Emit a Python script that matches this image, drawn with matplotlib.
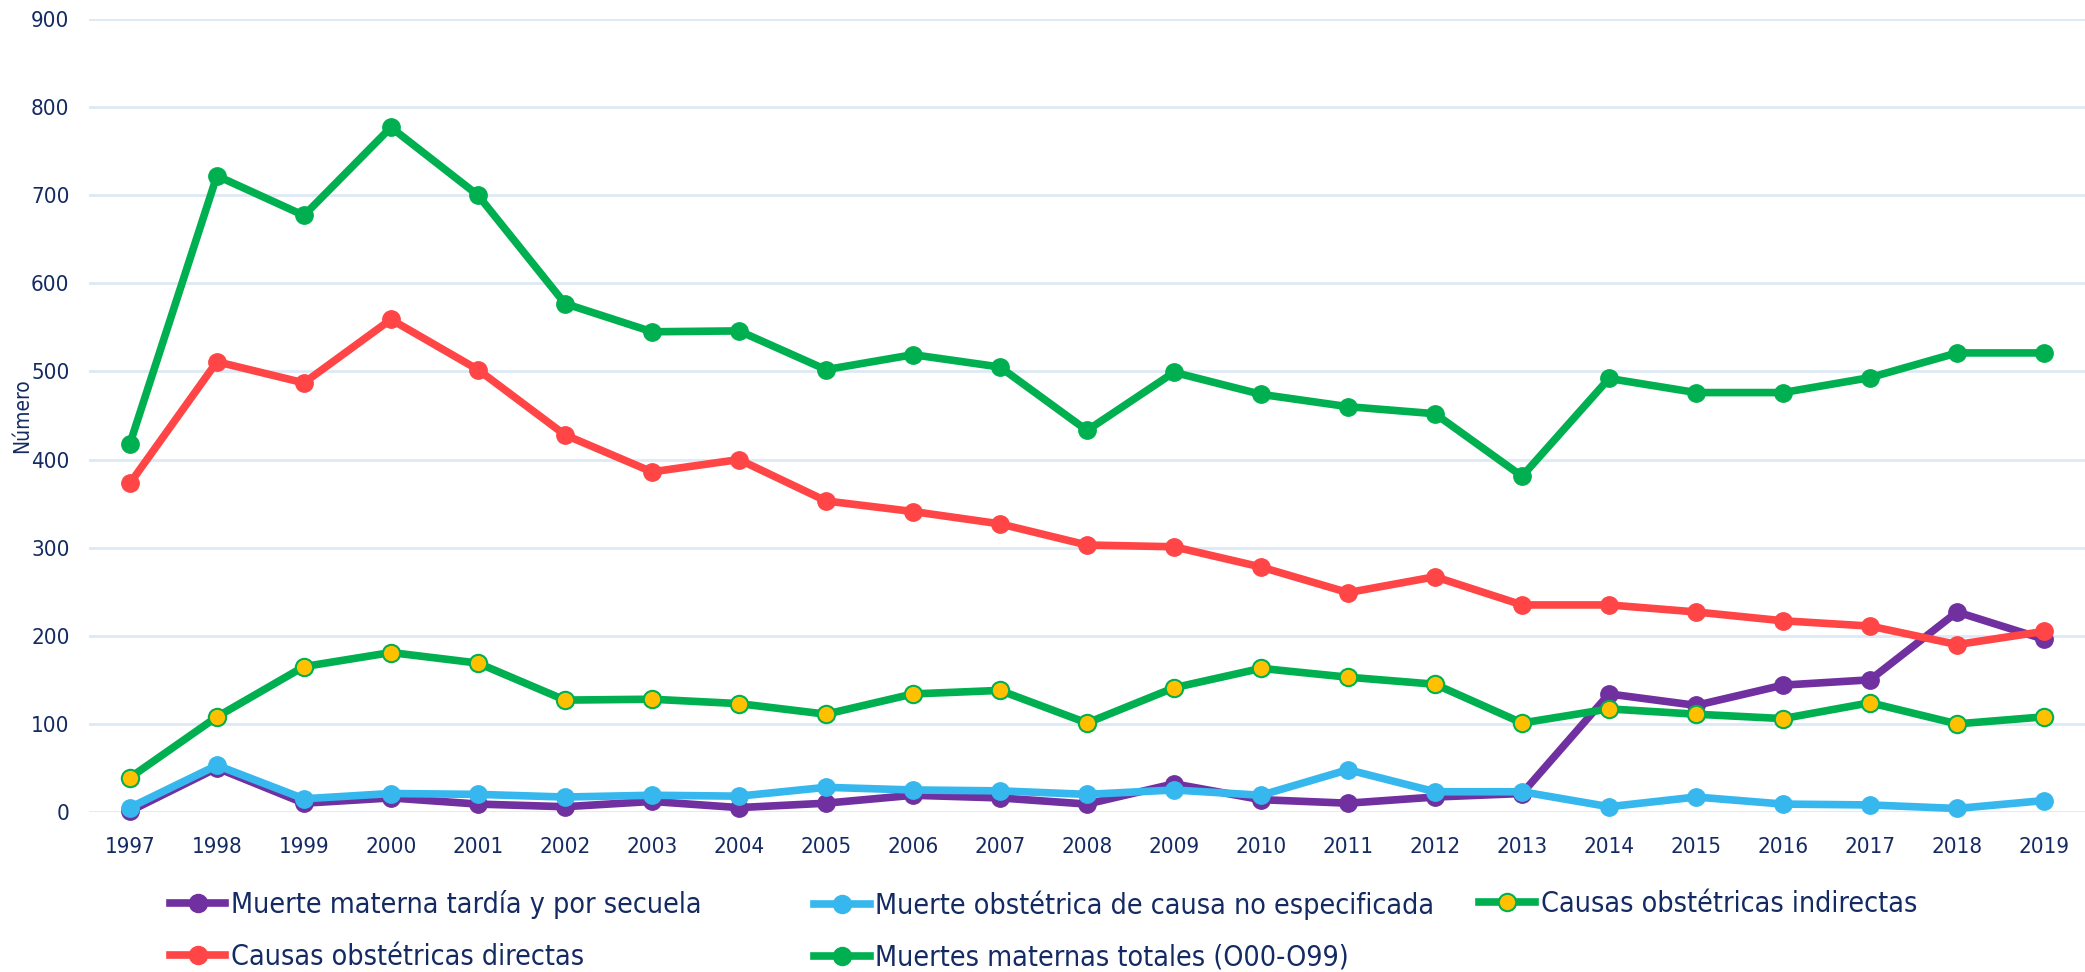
import matplotlib.pyplot as plt
from matplotlib.lines import Line2D

# Data
years = list(range(1997, 2020))
tardia = [1, 50, 10, 16, 9, 6, 12, 5, 10, 19, 16, 9, 32, 14, 10, 17, 21, 134, 121, 144, 150, 227, 196]
no_espec = [5, 53, 15, 21, 20, 17, 19, 18, 28, 25, 24, 20, 25, 19, 48, 23, 23, 6, 17, 9, 8, 4, 13]
indirectas = [39, 108, 165, 181, 169, 127, 128, 123, 111, 134, 138, 101, 141, 163, 153, 145, 101, 117, 111, 106, 124, 100, 108]
directas = [373, 511, 487, 559, 502, 428, 386, 400, 353, 341, 327, 303, 301, 278, 249, 267, 235, 235, 227, 217, 211, 190, 205]
totales = [418, 722, 677, 777, 700, 577, 545, 546, 502, 519, 505, 433, 499, 474, 460, 452, 381, 492, 476, 476, 493, 521, 521]

labels = ["Muerte materna tardía y por secuela",
          "Muerte obstétrica de causa no especificada",
          "Causas obstétricas indirectas",
          "Causas obstétricas directas",
          "Muertes maternas totales (O00-O99)"]

NAVY = "#142a63"
PURPLE = "#7030a0"
BLUE = "#36b8ee"
GREEN = "#00b050"
YELLOW = "#ffc000"
RED = "#ff4545"

plt.rcParams["font.family"] = ["DejaVu Sans"]
plt.rcParams["font.stretch"] = "condensed"

fig = plt.figure(figsize=(20.85, 9.72), dpi=100)
ax = fig.add_axes([0.0427, 0.1646, 0.9573, 0.8159])

lw = 5.5
ms = 12.5
ax.plot(years, tardia, color=PURPLE, lw=lw, marker="o", ms=ms, clip_on=False)
ax.plot(years, no_espec, color=BLUE, lw=lw, marker="o", ms=ms, clip_on=False)
ax.plot(years, indirectas, color=GREEN, lw=lw, marker="o", ms=ms,
        mfc=YELLOW, mec=GREEN, mew=1.5, clip_on=False)
ax.plot(years, directas, color=RED, lw=lw, marker="o", ms=ms, clip_on=False)
ax.plot(years, totales, color=GREEN, lw=lw, marker="o", ms=ms, clip_on=False)

ax.set_xlim(1996.53, 2019.47)
ax.set_ylim(0, 900)
ax.set_yticks(range(0, 901, 100))
ax.set_xticks(years)
ax.grid(axis="y", color="#dde9f4", lw=2)
ax.set_axisbelow(True)
for s in ax.spines.values():
    s.set_visible(False)
ax.tick_params(length=0, labelsize=16, labelcolor=NAVY)
ax.tick_params(axis="x", pad=18)
ax.tick_params(axis="y", pad=14)
fig.text(0.0106, 0.572, "Número", rotation=90, ha="center", va="center",
         fontsize=15, color=NAVY)


def handle(color, face=None):
    return Line2D([], [], color=color, lw=lw, marker="o", ms=ms,
                  mfc=face or color, mec=color, mew=1.5)


cols = [([handle(PURPLE), handle(RED)], [labels[0], labels[3]], 0.0815),
        ([handle(BLUE), handle(GREEN)], [labels[1], labels[4]], 0.3905),
        ([handle(GREEN, YELLOW)], [labels[2]], 0.7095)]
for hs, ls, x in cols:
    leg = fig.legend(hs, ls, loc="upper left", bbox_to_anchor=(x, 0.084),
                     frameon=False, fontsize=20.5, handlelength=1.95,
                     handletextpad=0.2, borderpad=0, borderaxespad=0,
                     labelspacing=0.84, labelcolor=NAVY)

fig.savefig("out.png", dpi=100)
